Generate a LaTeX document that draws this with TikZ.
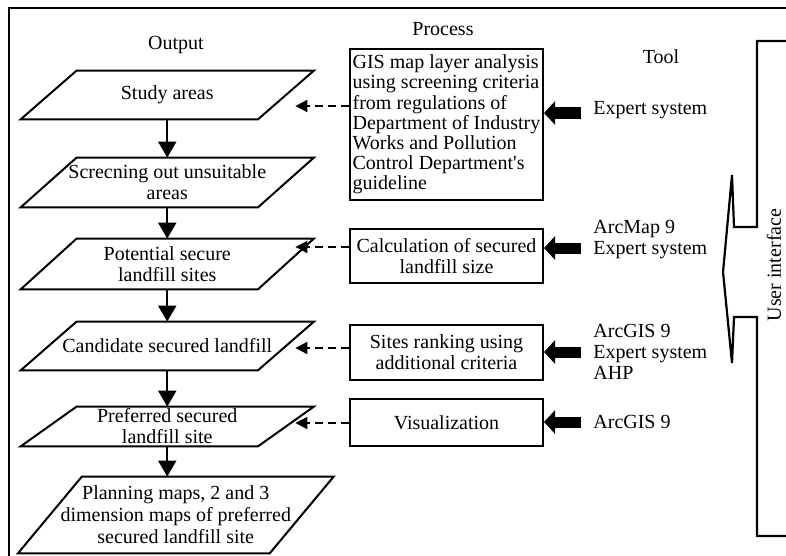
\documentclass[tikz,border=0pt]{standalone}
\usepackage{fontspec}
\setmainfont{Liberation Serif}
\usepackage{tikz}
\usetikzlibrary{arrows.meta}

\tikzset{
  boxline/.style={line width=1pt},
  outbox/.style={minimum width=118.25pt, minimum height=24pt, inner sep=0pt, align=center,
    append after command={\pgfextra{\let\outnode\tikzlastnode
      \draw[boxline] ([xshift=#1]\outnode.north west) -- ([xshift=#1]\outnode.north east)
        -- ([xshift=-#1]\outnode.south east) -- ([xshift=-#1]\outnode.south west) -- cycle;}}},
  outbox/.default=14pt,
  procbox/.style={draw, boxline, minimum width=96.5pt, inner sep=1pt, align=center},
  toollabel/.style={anchor=west, inner sep=0pt, align=left},
  toolarrow/.style={line width=5.5pt, -{Triangle[length=5.5pt,width=11.5pt]}},
  dasharrow/.style={line width=1pt, dash pattern=on 4pt off 2.5pt, -{Triangle[length=6pt,width=6pt]}},
}

\begin{document}
\begin{tikzpicture}[x=0.5pt, y=-0.5pt, font=\fontsize{10}{10.5}\selectfont]
	\useasboundingbox (0,0) rectangle (786,556);
	\draw[line width=1.3pt] (786,8) -- (9,8) -- (9,556);
	%
	%  HEADERS
	%
	\node (out) at (176,45) {Output};
	\node (proc) at (443,29) {Process};
	\node (tool) at (661,57) {Tool};
	%
	%  OUTPUT
	%
	\node[outbox] (study) at (167.25,95) {Study areas};
	\node[outbox, minimum height=24.5pt] (screen) at (167.25,182.5) {Screcning out unsuitable\\areas};
	\node[outbox, minimum height=25pt] (potential) at (167.25,264) {Potential secure\\landfill sites};
	\node[outbox] (candidate) at (167.25,346) {Candidate secured landfill};
	\node[outbox, minimum height=19.5pt] (preferred) at (167.25,426.5) {Preferred secured\\landfill site};
	\node[outbox=16pt, minimum width=125.5pt, minimum height=38pt, font=\fontsize{10}{11}\selectfont] (planning) at (175.75,515)
		{Planning maps, 2 and 3\\dimension maps of preferred\\secured landfill site};
	%
	%  PROCESS
	%
	\node[procbox, minimum height=75.5pt, align=left, font=\fontsize{10}{10.1}\selectfont] (gis) at (446.5,124.5)
		{GIS map layer analysis\\using screening criteria\\from regulations of\\Department of Industry\\Works and Pollution\\Control Department\textquotesingle s\\guideline};
	\node[procbox, minimum height=27pt] (calc) at (446.5,256) {Calculation of secured\\landfill size};
	\node[procbox, minimum height=27.5pt] (sites) at (446.5,352.5) {Sites ranking using\\additional criteria};
	\node[procbox, minimum height=23.5pt] (vis) at (446.5,422.5) {Visualization};
	%
	%  TOOL
	%
	\node[toollabel] (t1) at (593,110) {Expert system};
	\node[toollabel] (t2) at (593,240) {ArcMap 9\\Expert system};
	\node[toollabel] (t3) at (593,352) {ArcGIS 9\\Expert system\\AHP};
	\node[toollabel] (t4) at (593,422) {ArcGIS 9};
	%
	\draw[line width=1.1pt] (786,41) -- (757,41) -- (757,227) -- (734,227) -- (732,175) -- (723,272)
		-- (732,363) -- (734,317) -- (757,317) -- (757,536) -- (786,536);
	\node[rotate=90] (ui) at (774,265) {User interface};
	%
	\path[boxline, -{Triangle[length=8pt,width=9pt]}]
	(study) edge (screen)
	(screen) edge (potential)
	(potential) edge (candidate)
	(candidate) edge (preferred)
	(preferred.south) edge (preferred.south |- planning.north);
	%
	\draw[dasharrow] ([yshift=-5.5pt]study.east -| gis.west) -- ([xshift=4.75pt,yshift=-5.5pt]study.east);
	\draw[dasharrow] ([yshift=8.5pt]potential.east -| calc.west) -- ([xshift=4.75pt,yshift=8.5pt]potential.east);
	\draw[dasharrow] ([yshift=-1pt]candidate.east -| sites.west) -- ([xshift=4.75pt,yshift=-1pt]candidate.east);
	\draw[dasharrow] ([yshift=1.75pt]preferred.east -| vis.west) -- ([xshift=4.75pt,yshift=1.75pt]preferred.east);
	%
	\draw[toolarrow] ([xshift=-6pt,yshift=-1.5pt]t1.west) -- ([yshift=-1.5pt]t1.west -| gis.east);
	\draw[toolarrow] ([xshift=-6pt,yshift=-4pt]t2.west) -- ([yshift=-4pt]t2.west -| calc.east);
	\draw[toolarrow] ([xshift=-6pt]t3.west) -- (t3.west -| sites.east);
	\draw[toolarrow] ([xshift=-6pt]t4.west) -- (t4.west -| vis.east);
\end{tikzpicture}
\end{document}
